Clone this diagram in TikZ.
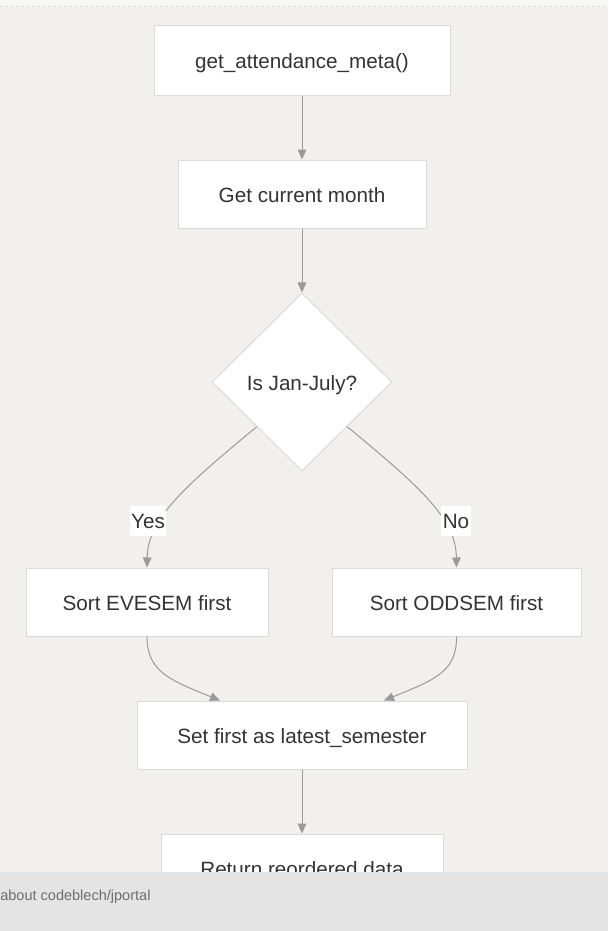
\documentclass[tikz,border=0pt]{standalone}
\usepackage{fontspec}
\setmainfont{Liberation Sans}
\usetikzlibrary{shapes.geometric,arrows.meta}
\definecolor{bgcol}{HTML}{F1F0EF}
\definecolor{topcol}{HTML}{F7F7F6}
\definecolor{nodeborder}{HTML}{DADADA}
\definecolor{edgecol}{HTML}{9A9A9A}
\definecolor{textcol}{HTML}{333333}
\definecolor{barcol}{HTML}{E4E4E4}
\definecolor{barline}{HTML}{DDE3EE}
\definecolor{bartext}{HTML}{6E6E6E}
\begin{document}
\begin{tikzpicture}[x=0.75pt,y=-0.75pt,
  box/.style={draw=nodeborder, fill=white, line width=0.75pt, minimum height=51pt, inner sep=0pt,
    font=\fontsize{15.5}{18}\selectfont, text=textcol, text height=12.5pt, text depth=0pt},
  decision/.style={diamond, draw=nodeborder, fill=white, line width=0.75pt, inner sep=0pt,
    minimum width=135pt, minimum height=133.5pt, font=\fontsize{15.5}{18}\selectfont, text=textcol,
    text height=12.5pt, text depth=0pt},
  edge/.style={draw=edgecol, line width=0.75pt, -{Triangle[length=7.5pt,width=6.5pt]}, color=edgecol},
  elabel/.style={fill=white, inner xsep=1pt, inner ysep=0pt, minimum height=22.5pt,
    font=\fontsize{15.5}{18}\selectfont, text=textcol, text height=12.5pt, text depth=0pt}]
\useasboundingbox (0,0) rectangle (608,931);
\fill[bgcol] (0,0) rectangle (608,931);
\fill[topcol] (0,0) rectangle (608,7);
\draw[nodeborder, line width=0.75pt, dash pattern=on 2pt off 2pt] (0,7) -- (608,7);

\node[box, minimum width=222pt, minimum height=51.75pt] (start) at (302,60.5) {get\_attendance\_meta()};
\node[box, minimum width=186pt] (month) at (302,194) {Get current month};
\node[decision] (dec) at (302,382) {Is Jan-July?};
\node[box, minimum width=181.5pt] (eve) at (147,602) {Sort EVESEM first};
\node[box, minimum width=186.75pt] (odd) at (456.5,602) {Sort ODDSEM first};
\node[box, minimum width=247.5pt] (latest) at (302,735) {Set first as latest\_semester};
\node[box, minimum width=211.5pt] (ret) at (302,868) {Return reordered data};

\draw[edge] (start) -- (month);
\draw[edge] (month) -- (dec);
\draw[edge] (dec.south west) .. controls (180,490) and (148,520) .. (eve.north);
\draw[edge] (dec.south east) .. controls (424,490) and (456,520) .. (odd.north);
\node[elabel] (yes) at (148,520.5) {Yes};
\node[elabel] (no) at (456,520.5) {No};
\draw[edge] (eve.south) .. controls (147,672) and (170,680) .. ([xshift=-61.5pt]latest.north);
\draw[edge] (odd.south) .. controls (457,672) and (434,680) .. ([xshift=61.5pt]latest.north);
\draw[edge] (latest) -- (ret);

\fill[barcol] (0,872) rectangle (608,931);
\draw[barline, line width=0.5pt] (0,872) -- (608,872);
\node[anchor=west, inner sep=0pt, text=bartext, font=\fontsize{10.9}{13}\selectfont] (about) at (0,897) {about codeblech/jportal};
\end{tikzpicture}
\end{document}
